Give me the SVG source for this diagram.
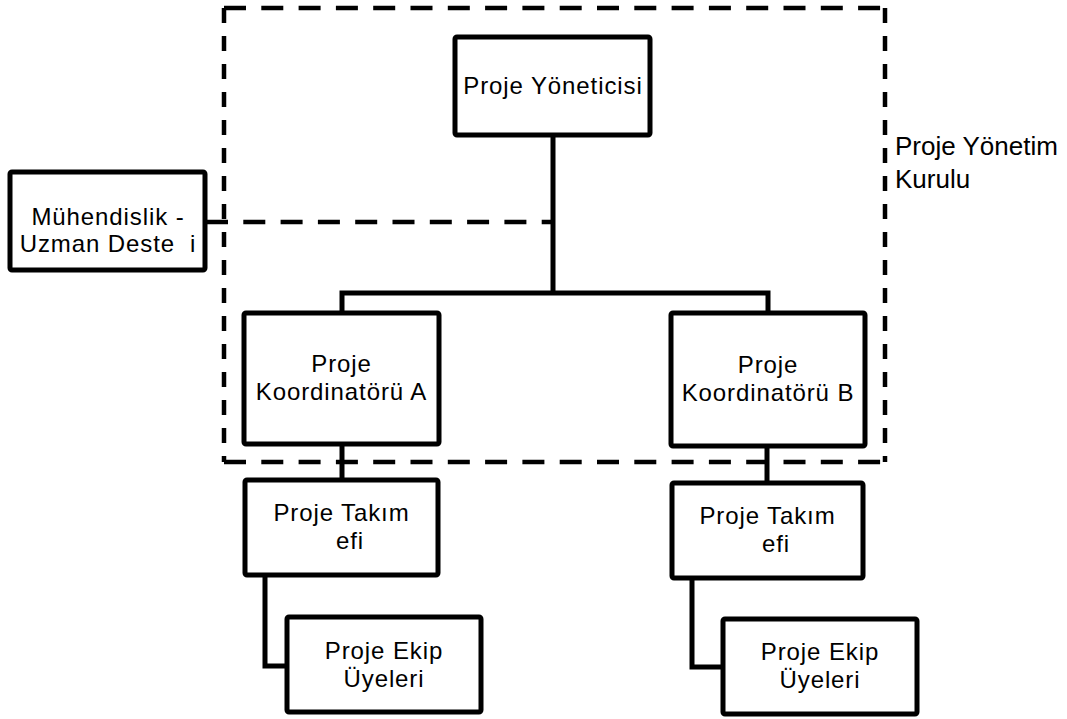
<svg xmlns="http://www.w3.org/2000/svg" width="1067" height="719" viewBox="0 0 1067 719">
<style>
.box{fill:#fff;stroke:#000;stroke-width:5}
.ln{fill:none;stroke:#000;stroke-width:5;stroke-linejoin:miter}
.dh{fill:none;stroke:#000;stroke-width:4.5;stroke-dasharray:22 15.3}
.dv{fill:none;stroke:#000;stroke-width:4.5;stroke-dasharray:15 13}
text{font-family:"Liberation Sans",Arial,sans-serif;font-size:24px;letter-spacing:0.9px;fill:#000;text-anchor:middle}
.lbl{font-size:26px;letter-spacing:0;text-anchor:start}
</style>
<rect width="1067" height="719" fill="#fff"/>
<g id="board">
<line class="dh" x1="224" y1="8" x2="885" y2="8"/>
<line class="dh" x1="224" y1="462" x2="885" y2="462"/>
<line class="dv" x1="224" y1="8" x2="224" y2="462"/>
<line class="dv" x1="885" y1="8" x2="885" y2="462"/>
<text class="lbl" x="895" y="155">Proje Yönetim</text>
<text class="lbl" x="895" y="188">Kurulu</text>
</g>
<g id="connectors">
<path class="ln" d="M553 135 V293 M342 313 V293 H768 V313"/>
<line class="dh" x1="206" y1="222" x2="553" y2="222"/>
<path class="ln" d="M342 444 V480"/>
<path class="ln" d="M767 446 V483"/>
<path class="ln" d="M265 575 V666 H287"/>
<path class="ln" d="M692 578 V667 H723"/>
</g>
<g id="yonetici">
<rect class="box" x="455" y="37" width="195" height="98" rx="2"/>
<text x="553" y="94">Proje Yöneticisi</text>
</g>
<g id="muhendislik">
<rect class="box" x="10" y="172" width="195" height="98" rx="2"/>
<text x="108" y="225">Mühendislik -</text>
<text x="108" y="252" xml:space="preserve">Uzman Deste  i</text>
</g>
<g id="koordA">
<rect class="box" x="244" y="313" width="195" height="131" rx="2"/>
<text x="341.5" y="372">Proje</text>
<text x="341.5" y="400">Koordinatörü A</text>
</g>
<g id="koordB">
<rect class="box" x="671" y="313" width="194" height="133" rx="2"/>
<text x="768" y="373">Proje</text>
<text x="768" y="401">Koordinatörü B</text>
</g>
<g id="takimA">
<rect class="box" x="245" y="480" width="193" height="95" rx="2"/>
<text x="341.5" y="521">Proje Takım</text>
<text x="350" y="549">efi</text>
</g>
<g id="takimB">
<rect class="box" x="672" y="483" width="191" height="95" rx="2"/>
<text x="767.5" y="524">Proje Takım</text>
<text x="776" y="552">efi</text>
</g>
<g id="ekipA">
<rect class="box" x="287" y="617" width="194" height="95" rx="2"/>
<text x="384" y="659">Proje Ekip</text>
<text x="384" y="687">Üyeleri</text>
</g>
<g id="ekipB">
<rect class="box" x="723" y="619" width="194" height="95" rx="2"/>
<text x="820" y="660">Proje Ekip</text>
<text x="820" y="688">Üyeleri</text>
</g>
</svg>
